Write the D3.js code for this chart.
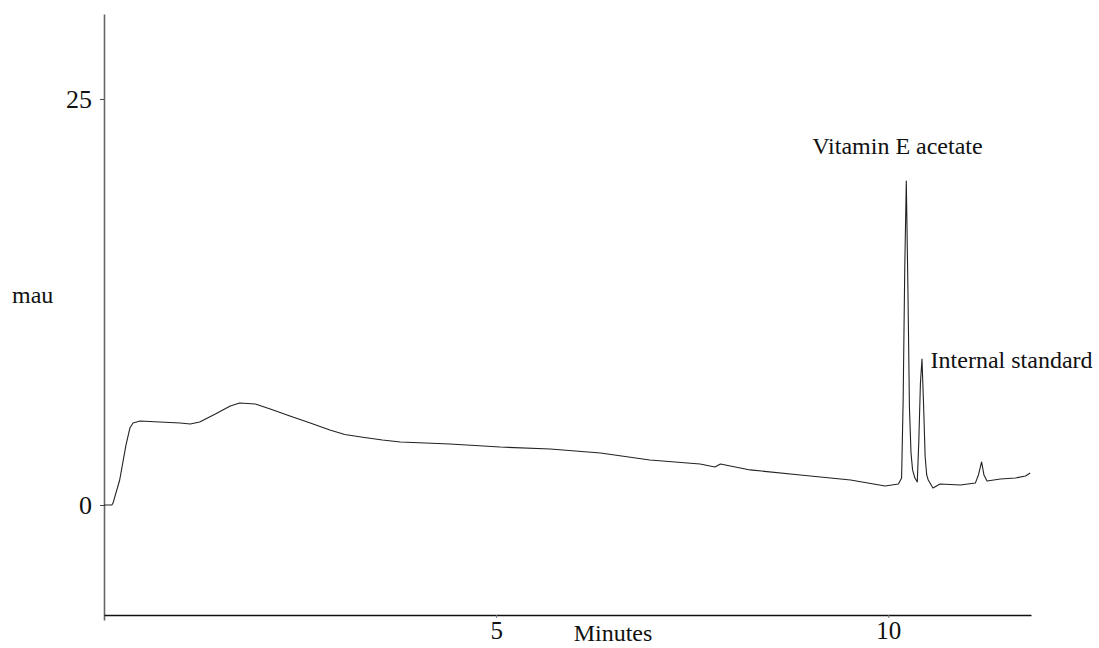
<!DOCTYPE html>
<html>
<head>
<meta charset="utf-8">
<script src="https://cdn.jsdelivr.net/npm/d3@7"></script>
<style>
  body { margin: 0; background: #fff; }
  text { font-family: "Liberation Serif", "Times New Roman", serif; fill: #111; }
</style>
</head>
<body>
<svg id="chart" width="1099" height="648"></svg>
<script>
// retention time (minutes) and absorbance (mau)
const minutes = [0, 0.10, 0.115, 0.20, 0.28, 0.33, 0.37, 0.46, 0.71, 0.97, 1.10, 1.22, 1.42, 1.61, 1.73,
  1.93, 2.12, 2.37, 2.63, 2.88, 3.07, 3.30, 3.55, 3.78, 4.41, 5.05, 5.69, 6.33, 6.96, 7.60, 7.79, 7.86,
  8.24, 8.88, 9.52, 9.96, 10.13, 10.17, 10.19, 10.21, 10.23, 10.25, 10.27, 10.29, 10.31, 10.34,
  10.37, 10.39, 10.41, 10.43, 10.45, 10.47, 10.49, 10.51, 10.57, 10.66, 10.92, 11.11, 11.15,
  11.19, 11.22, 11.26, 11.43, 11.62, 11.75, 11.81]
const mau = [0, 0, 0.12, 1.54, 3.69, 4.74, 5.05, 5.17, 5.11, 5.05, 4.99, 5.11, 5.60, 6.10, 6.28,
  6.22, 5.91, 5.48, 5.05, 4.62, 4.34, 4.17, 4.00, 3.88, 3.76, 3.57, 3.45, 3.20, 2.77, 2.52, 2.34, 2.52,
  2.16, 1.85, 1.54, 1.17, 1.29, 1.66, 6.5, 14.5, 19.95, 13.5, 6.0, 3.2, 2.16, 1.66,
  1.42, 4.0, 7.5, 8.99, 6.2, 3.0, 1.85, 1.54, 1.05, 1.29, 1.23, 1.35, 1.85,
  2.65, 1.85, 1.48, 1.60, 1.66, 1.79, 1.97]

const yTicks = [0, 25]
const xTicks = [5, 10]
const peakLabels = [
  {text: 'Vitamin E acetate', t: 9.03, v: 21.6},
  {text: 'Internal standard', t: 10.54, v: 8.42}
]

const svg = d3.select('#chart')
const x = d3.scaleLinear().domain([0, 11.82]).range([104, 1031])
const y = d3.scaleLinear().domain([-7.08, 30.23]).range([620, 14])

// y axis
const yAxis = svg.append('g')
  .attr('transform', 'translate(104,0)')
  .call(d3.axisLeft(y).tickValues(yTicks).tickSize(4).tickSizeOuter(0).tickPadding(8))
yAxis.select('.domain').attr('stroke', '#666').attr('stroke-width', 1.6)
yAxis.selectAll('.tick line').attr('stroke', '#444')
yAxis.selectAll('.tick text')
  .attr('font-size', 26)
  .attr('font-family', '"Liberation Serif", serif')
  .attr('fill', '#111')

// x axis
const xAxis = svg.append('g')
  .attr('transform', 'translate(0,615)')
  .call(d3.axisBottom(x).tickValues(xTicks).tickSize(3).tickSizeOuter(0).tickPadding(3))
xAxis.select('.domain').attr('stroke', '#111').attr('stroke-width', 1.6)
xAxis.selectAll('.tick line').attr('stroke', '#777')
xAxis.selectAll('.tick text')
  .attr('font-size', 25)
  .attr('font-family', '"Liberation Serif", serif')
  .attr('fill', '#111')

// axis titles
svg.append('text')
  .attr('x', 12)
  .attr('y', 303)
  .attr('font-size', 24)
  .text('mau')

svg.append('text')
  .attr('x', 613)
  .attr('y', 641)
  .attr('text-anchor', 'middle')
  .attr('font-size', 24)
  .text('Minutes')

// trace
const line = d3.line()
  .x((d, i) => x(minutes[i]))
  .y((d) => y(d))

svg.append('path')
  .datum(mau)
  .attr('d', line)
  .attr('fill', 'none')
  .attr('stroke', '#222')
  .attr('stroke-width', 1.1)
  .attr('stroke-linejoin', 'round')

// peak labels
svg.selectAll('.peak-label')
  .data(peakLabels)
  .enter().append('text')
  .attr('class', 'peak-label')
  .attr('x', (d) => x(d.t))
  .attr('y', (d) => y(d.v))
  .attr('font-size', 24)
  .text((d) => d.text)
</script>
</body>
</html>
